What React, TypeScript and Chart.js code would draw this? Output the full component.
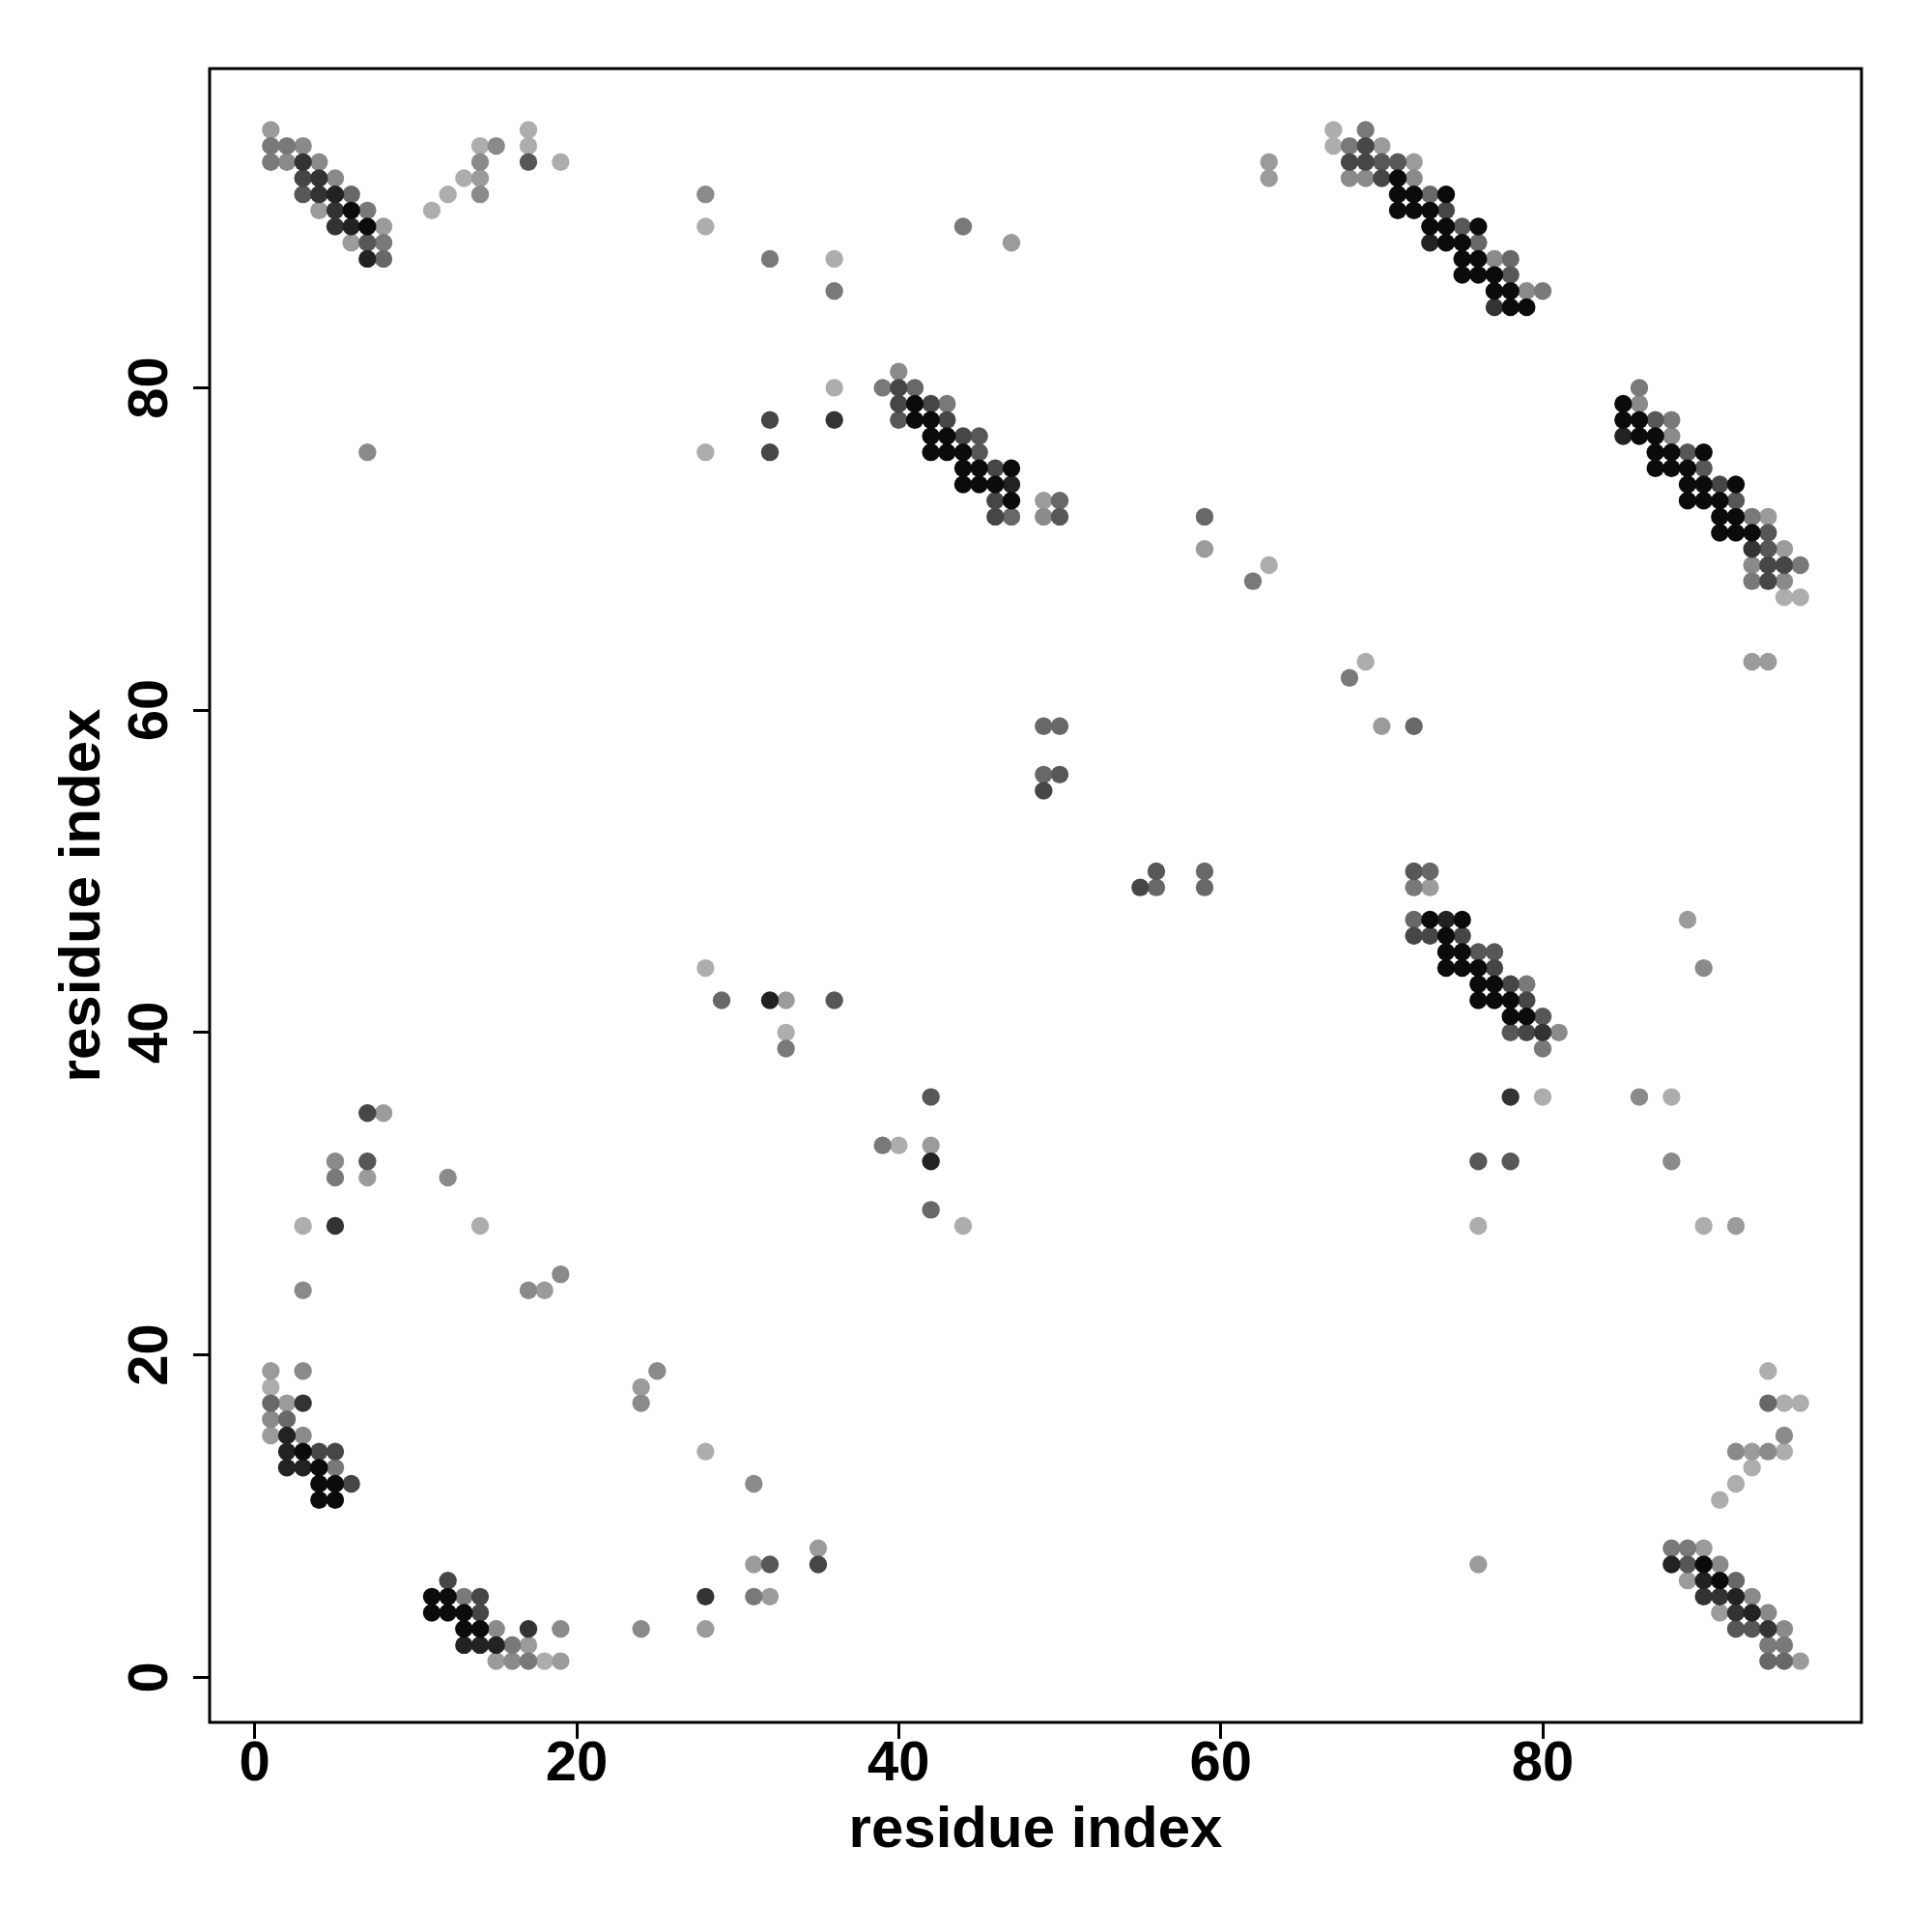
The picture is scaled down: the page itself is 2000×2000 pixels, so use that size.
import React, { useEffect, useRef } from "react";
import { Chart, registerables } from "chart.js";

Chart.register(...registerables);

type Pt = [number, number];

const xTicks = [0, 20, 40, 60, 80];
const yTicks = [0, 20, 40, 60, 80];
const axisMin = -2.8;
const axisMax = 99.8;
const xTitle = "residue index";
const yTitle = "residue index";

// contacts grouped by grey level (darkest first)
const contactsBlack: Pt[] = [
  [6, 91], [7, 90],
  [41, 79], [41, 78], [42, 78], [42, 77], [43, 77], [42, 76], [43, 76], [44, 76], [44, 75], [45, 75], [47, 75], [44, 74], [45, 74], [46, 74], [47, 73],
  [3, 14], [4, 13], [4, 12], [5, 12], [4, 11], [5, 11], [11, 5], [12, 5], [11, 4], [12, 4], [13, 4], [13, 3], [14, 3],
  [71, 93], [71, 92], [72, 92], [74, 92], [71, 91], [72, 91], [73, 91], [73, 90], [74, 90], [76, 90], [74, 89], [75, 89], [75, 88], [76, 88], [75, 87], [76, 87], [77, 87], [77, 86], [78, 86], [78, 85], [79, 85],
  [85, 79], [85, 78], [86, 78], [86, 77], [87, 77], [87, 76], [88, 76], [90, 76], [87, 75], [88, 75], [89, 75], [89, 74], [90, 74], [92, 74], [89, 73], [90, 73], [91, 73], [91, 72], [92, 72], [91, 71], [92, 71], [93, 71],
  [73, 47], [75, 47], [74, 46], [74, 45], [75, 45], [74, 44], [75, 44], [76, 44], [76, 43], [77, 43], [76, 42], [77, 42], [78, 42], [78, 41], [79, 41],
  [90, 7], [91, 6],
];
const contactsGrey22: Pt[] = [
  [5, 92], [6, 90], [7, 88], [47, 74], [32, 42], [42, 32], [2, 15], [2, 14], [2, 13], [3, 13], [13, 2], [14, 2], [15, 2],
  [73, 89], [85, 77], [74, 47], [88, 7], [90, 6], [92, 5], [93, 4],
];
const contactsGrey33: Pt[] = [
  [3, 94], [4, 93], [4, 92], [5, 91], [5, 90], [36, 78], [5, 28], [3, 17], [28, 5], [17, 3], [77, 85], [93, 70], [80, 40], [78, 36],
  [90, 5], [91, 5], [92, 4], [94, 3],
];
const contactsGrey44: Pt[] = [
  [3, 93], [32, 76], [32, 78], [40, 80], [40, 79], [42, 79], [43, 78], [44, 77], [46, 75], [46, 73], [46, 72], [49, 55], [55, 49],
  [7, 35], [4, 14], [5, 14], [6, 12], [35, 7], [12, 6], [14, 5], [14, 4],
  [69, 95], [68, 94], [69, 94], [70, 93], [74, 91], [91, 74], [94, 69], [95, 69], [94, 68],
  [72, 46], [73, 46], [75, 46], [77, 44], [78, 43], [79, 42], [79, 40],
];
const contactsGrey55: Pt[] = [
  [17, 94], [3, 92], [7, 89], [40, 78], [45, 77], [45, 76], [50, 72], [50, 56], [56, 50], [36, 42], [42, 36], [7, 32], [32, 7],
  [70, 94], [71, 94], [75, 90], [78, 87], [87, 78], [89, 76], [90, 75], [92, 73], [94, 71], [94, 70], [72, 50],
  [76, 45], [77, 45], [80, 41], [78, 40], [76, 32], [78, 32], [89, 7], [92, 3], [93, 3],
];
const contactsGrey66: Pt[] = [
  [6, 92], [8, 88], [41, 80], [50, 73], [47, 72], [59, 72], [49, 59], [50, 59], [49, 56], [59, 50], [56, 49], [59, 49], [42, 29], [29, 42],
  [1, 17], [2, 16], [73, 92], [76, 89], [78, 88], [73, 50], [72, 59], [72, 47], [94, 17], [92, 6], [94, 1], [95, 1],
];
const contactsGrey77: Pt[] = [
  [1, 95], [2, 95], [1, 94], [7, 91], [8, 89], [32, 88], [44, 90], [36, 86], [39, 80], [43, 79], [62, 68], [33, 39], [39, 33],
  [5, 31], [5, 13], [13, 5], [31, 5], [16, 2], [17, 1], [69, 96], [68, 95], [80, 86], [86, 80], [88, 78], [93, 72], [96, 69], [93, 68],
  [68, 62], [72, 49], [79, 43], [80, 39], [88, 8], [89, 8], [94, 2], [95, 2],
];
const contactsGrey88: Pt[] = [
  [3, 95], [15, 95], [2, 94], [4, 94], [14, 94], [5, 93], [14, 92], [28, 92], [7, 76], [40, 81], [49, 72], [5, 32], [12, 31], [19, 25],
  [3, 24], [17, 24], [3, 19], [25, 19], [24, 17], [1, 16], [3, 15], [31, 12], [15, 3], [19, 3], [24, 3], [16, 1],
  [68, 93], [69, 93], [72, 93], [77, 88], [79, 86], [86, 79], [88, 77], [93, 69], [95, 68], [90, 44], [81, 40], [86, 36], [88, 32],
  [95, 15], [92, 14], [94, 14], [91, 7], [93, 5], [94, 4], [95, 3],
];
const contactsGrey99: Pt[] = [
  [1, 96], [14, 93], [4, 91], [8, 90], [6, 89], [63, 94], [63, 93], [47, 89], [49, 73], [59, 70], [33, 42], [42, 33], [8, 35], [7, 31],
  [18, 24], [1, 19], [24, 18], [2, 17], [1, 15], [31, 7], [35, 8], [32, 5], [28, 3], [17, 2], [15, 1], [19, 1],
  [70, 95], [72, 94], [94, 72], [95, 70], [93, 63], [94, 63], [70, 59], [73, 49], [89, 47], [92, 28], [93, 14], [90, 8], [76, 7],
  [89, 6], [91, 4], [96, 1],
];
const contactsGreyAA: Pt[] = [
  [17, 96], [14, 95], [17, 95], [19, 94], [13, 93], [12, 92], [11, 91], [28, 90], [28, 76], [36, 88], [36, 80], [63, 69], [33, 40],
  [40, 33], [44, 28], [28, 44], [3, 28], [14, 28], [1, 18], [28, 14], [18, 1], [67, 96], [67, 95], [95, 67], [96, 67], [69, 63],
  [80, 36], [88, 36], [76, 28], [90, 28], [94, 19], [95, 17], [96, 17], [95, 14], [93, 13], [92, 12], [91, 11],
];

const groups: [Pt[], string][] = [
  [contactsBlack, "#0b0b0b"],
  [contactsGrey22, "#222222"],
  [contactsGrey33, "#333333"],
  [contactsGrey44, "#464646"],
  [contactsGrey55, "#575757"],
  [contactsGrey66, "#686868"],
  [contactsGrey77, "#797979"],
  [contactsGrey88, "#8a8a8a"],
  [contactsGrey99, "#9b9b9b"],
  [contactsGreyAA, "#adadad"],
];

const TICK_FONT = "bold 58px 'Liberation Sans', Arial, Helvetica, sans-serif";
const TITLE_FONT = "bold 60px 'Liberation Sans', Arial, Helvetica, sans-serif";

const frameAndLabels = {
  id: "frameAndLabels",
  afterDraw(chart: any) {
    const { ctx, chartArea } = chart;
    const { left, top, right, bottom } = chartArea;
    const xs = chart.scales.x;
    const ys = chart.scales.y;
    ctx.save();
    ctx.strokeStyle = "#000";
    ctx.lineWidth = 3;
    ctx.strokeRect(left, top, right - left, bottom - top);
    ctx.fillStyle = "#000";
    ctx.textAlign = "center";
    ctx.textBaseline = "alphabetic";
    ctx.font = TICK_FONT;
    xTicks.forEach((v) => ctx.fillText(String(v), xs.getPixelForValue(v), bottom + 60));
    yTicks.forEach((v) => {
      ctx.save();
      ctx.translate(left - 44, ys.getPixelForValue(v));
      ctx.rotate(-Math.PI / 2);
      ctx.fillText(String(v), 0, 0);
      ctx.restore();
    });
    ctx.font = TITLE_FONT;
    ctx.fillText(xTitle, (left + right) / 2, bottom + 129);
    ctx.save();
    ctx.translate(left - 114, (top + bottom) / 2);
    ctx.rotate(-Math.PI / 2);
    ctx.fillText(yTitle, 0, 0);
    ctx.restore();
    ctx.restore();
  },
};

export default function App() {
  const ref = useRef<HTMLCanvasElement | null>(null);
  useEffect(() => {
    if (!ref.current) return;
    const axisCommon = (ticks: number[]) => ({
      type: "linear" as const,
      min: axisMin,
      max: axisMax,
      ticks: { display: false, includeBounds: false },
      afterBuildTicks: (scale: any) => {
        scale.ticks = ticks.map((v) => ({ value: v }));
      },
      grid: {
        display: true,
        drawOnChartArea: false,
        drawTicks: true,
        tickLength: 17,
        tickWidth: 3,
        tickColor: "#000",
        color: "#000",
      },
      border: { display: false },
    });
    const chart = new Chart(ref.current, {
      type: "scatter",
      data: {
        datasets: groups.map(([pts, color]) => ({
          data: pts.map(([x, y]) => ({ x, y })),
          backgroundColor: color,
          borderWidth: 0,
          pointRadius: 9.2,
          pointHoverRadius: 9.2,
          pointStyle: "circle",
        })),
      },
      options: {
        animation: false,
        responsive: false,
        devicePixelRatio: 1,
        events: [],
        layout: { padding: { left: 0, top: 71, right: 73, bottom: 0 } },
        plugins: { legend: { display: false }, tooltip: { enabled: false } },
        scales: {
          x: {
            ...axisCommon(xTicks),
            position: "bottom",
            afterFit: (scale: any) => {
              scale.height = 217;
            },
          },
          y: {
            ...axisCommon(yTicks),
            position: "left",
            afterFit: (scale: any) => {
              scale.width = 217;
            },
          },
        },
      },
      plugins: [frameAndLabels],
    } as any);
    return () => chart.destroy();
  }, []);
  return (
    <div style={{ position: "absolute", left: 0, top: 0, width: 2000, height: 2000, background: "#fff" }}>
      <canvas ref={ref} width={2000} height={2000} style={{ display: "block" }} />
    </div>
  );
}
